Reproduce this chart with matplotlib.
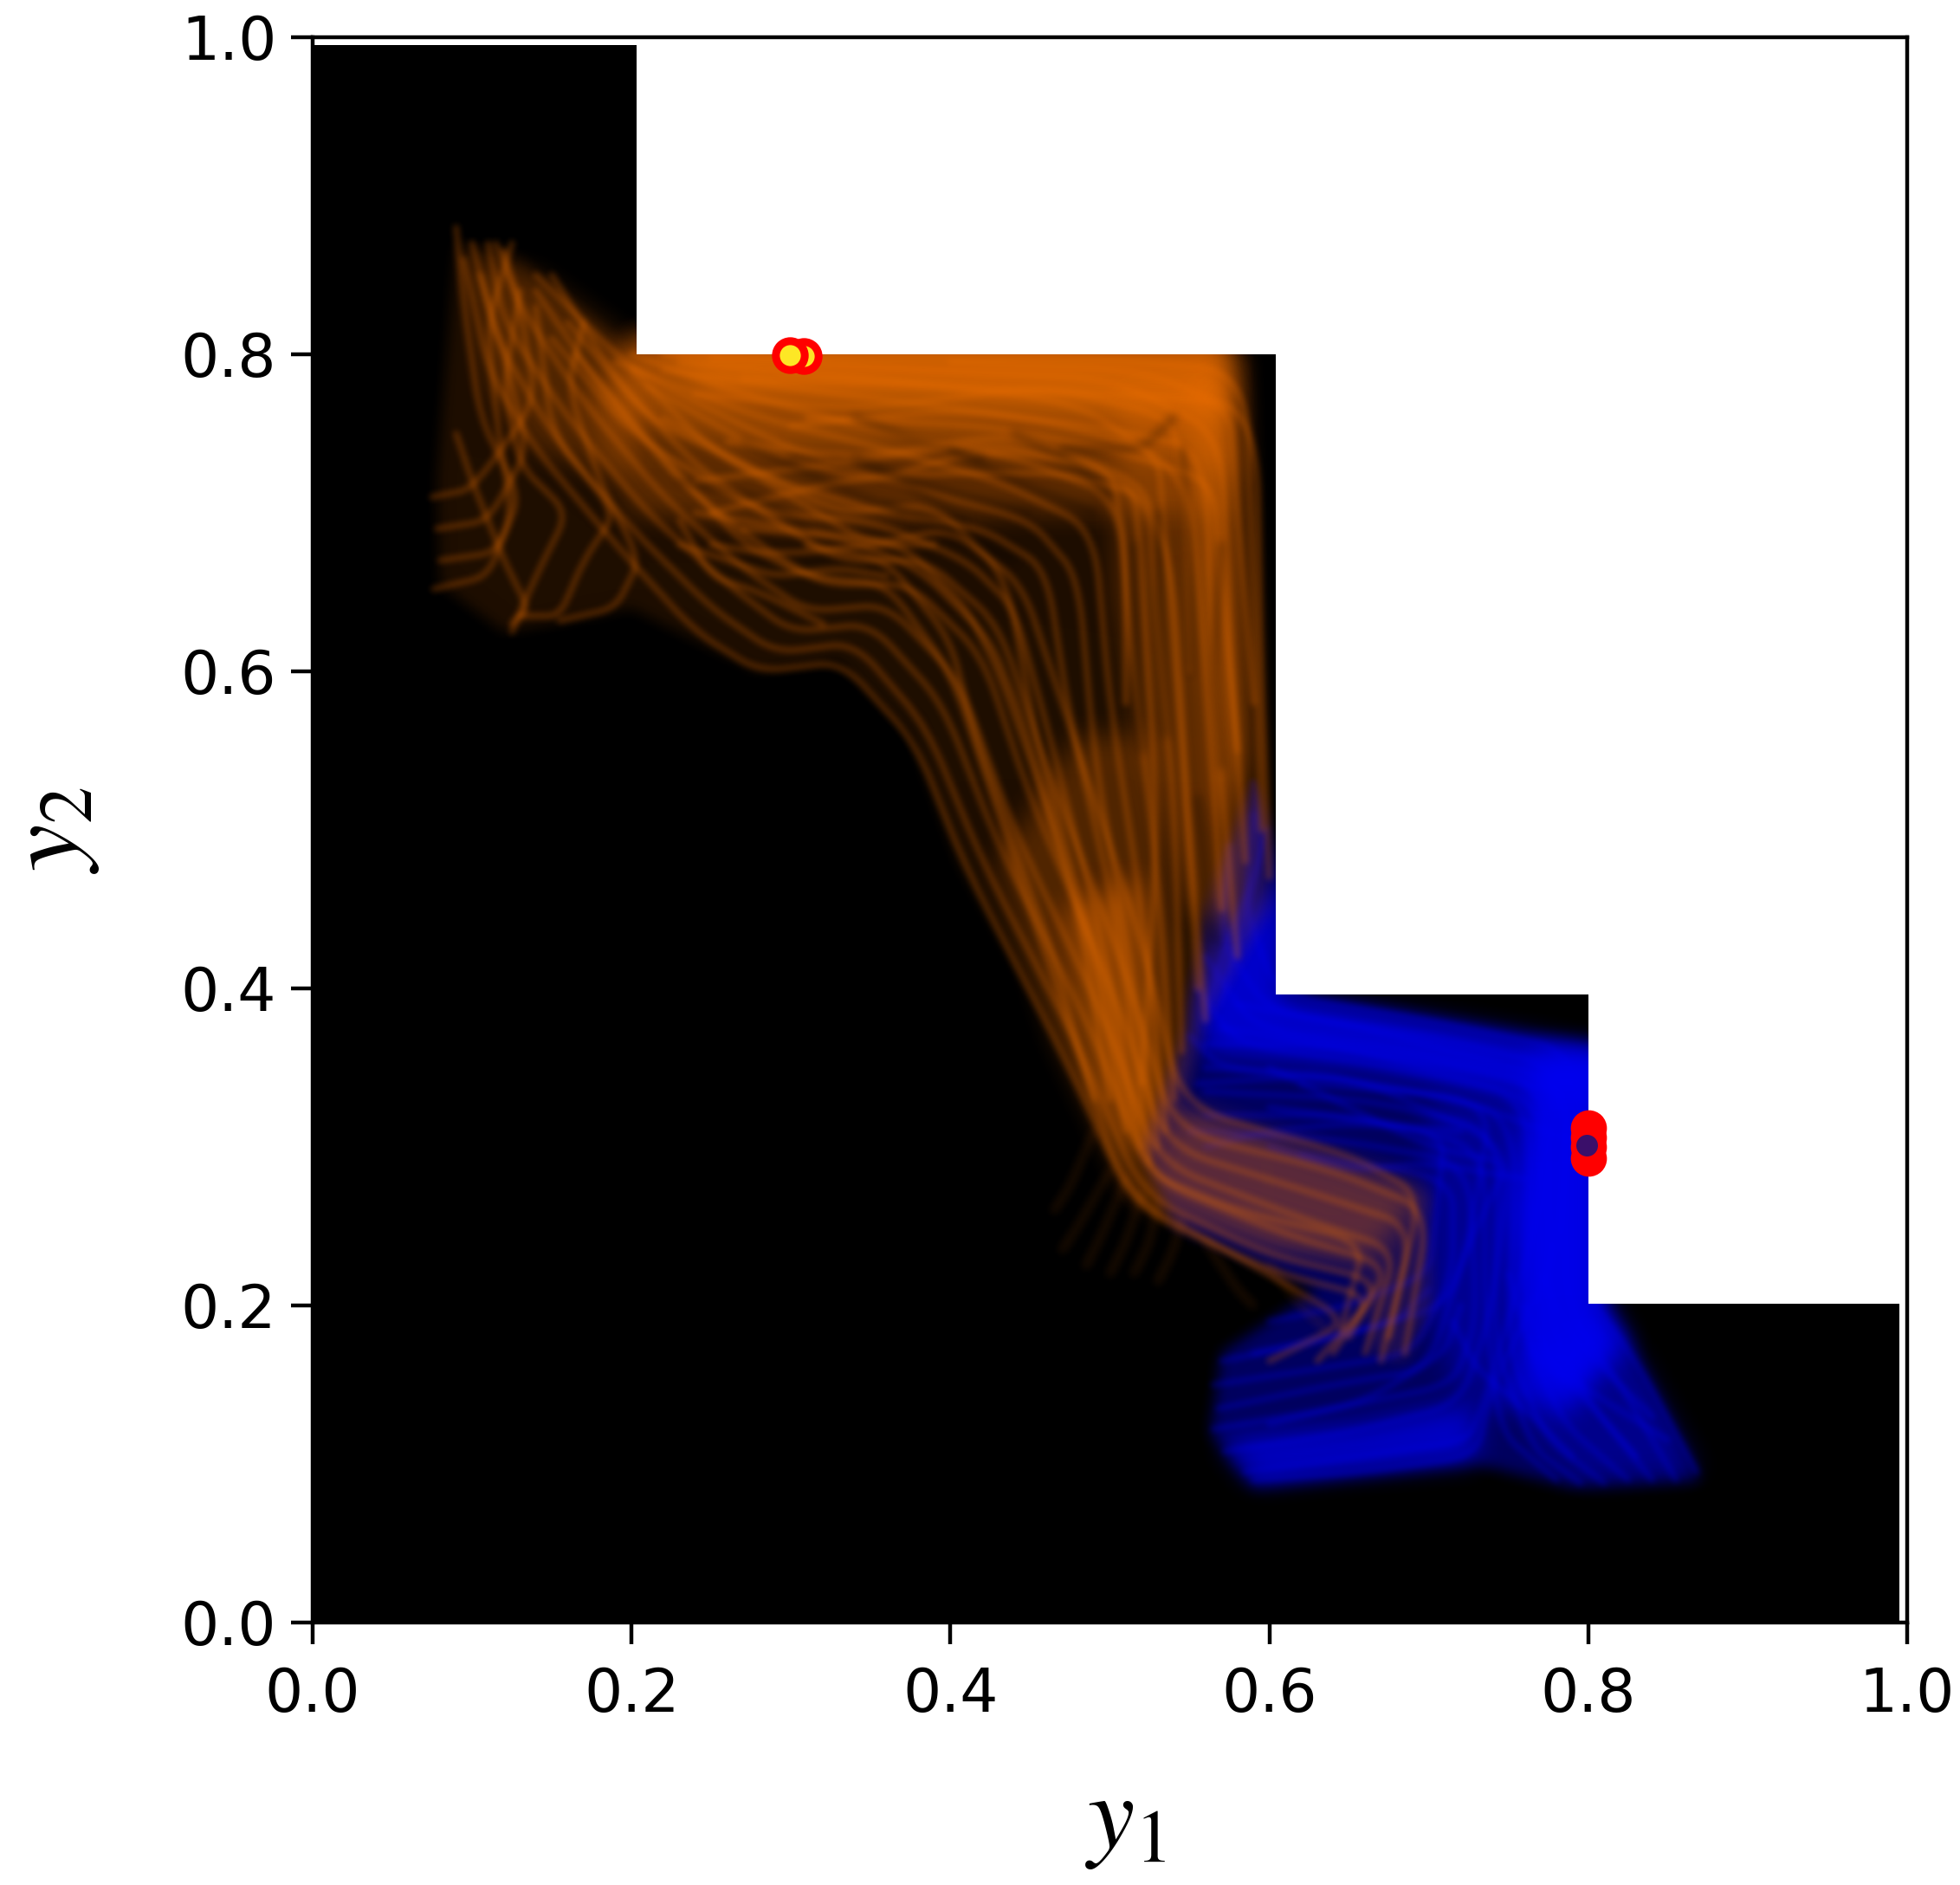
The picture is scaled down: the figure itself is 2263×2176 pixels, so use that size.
# Trajectories in objective space, two bundles over a staircase region
import numpy as np
import matplotlib
matplotlib.use("Agg")
import matplotlib.pyplot as plt
from matplotlib.path import Path
from matplotlib.collections import PathCollection

# staircase region (black) and the white part above it
region = [(0, 0), (.995, 0), (.995, .201), (.8, .201), (.8, .396), (.604, .396), (.604, .8),
          (.203, .8), (.203, .995), (0, .995)]
outside = [(.203, 1), (.203, .8), (.604, .8), (.604, .396), (.8, .396), (.8, .201), (1, .201), (1, 1)]

# blue bundle, areas (faint to dense)
blue_areas = [
    [(.605, .398), (.81, .363), (.81, .2), (.83, .17), (.87, .09), (.79, .085), (.73, .1), (.59, .085),
     (.563, .12), (.57, .17), (.63, .21), (.54, .25), (.52, .3), (.55, .38), (.56, .45), (.59, .53), (.61, .47)],
    [(.61, .395), (.81, .36), (.81, .33), (.76, .33), (.66, .35), (.56, .36), (.555, .39), (.58, .44), (.61, .47)],
    [(.765, .36), (.81, .36), (.81, .2), (.825, .175), (.79, .14), (.755, .16), (.75, .26)],
    [(.59, .09), (.73, .103), (.73, .135), (.755, .16), (.8, .19), (.79, .13), (.73, .14), (.66, .125), (.57, .115)],
    [(.8, .2), (.83, .17), (.87, .095), (.8, .09), (.76, .12)],
    [(.7, .33), (.76, .33), (.75, .16), (.72, .14), (.7, .2)],
]
blue_area_alpha = [.4, .75, .95, .7, .3, .35]

blue_paths = [
    [(.868, .095), (.83, .165), (.797, .21), (.795, .36), (.7, .38), (.605, .396), (.585, .45), (.59, .51)],
    [(.855, .09), (.82, .15), (.785, .2), (.785, .35), (.7, .37), (.6, .385), (.57, .43), (.575, .49)],
    [(.84, .09), (.8, .14), (.775, .19), (.775, .34), (.69, .36), (.59, .375), (.56, .42)],
    [(.825, .09), (.785, .125), (.76, .18), (.765, .33), (.68, .35), (.58, .365), (.555, .4)],
    [(.81, .088), (.775, .115), (.75, .17), (.755, .32), (.67, .34), (.57, .35), (.55, .37)],
    [(.795, .088), (.765, .11), (.74, .18), (.745, .31), (.66, .33), (.56, .335)],
    [(.78, .09), (.745, .12), (.735, .2), (.735, .3), (.65, .32), (.56, .32)],
    [(.565, .122), (.64, .135), (.715, .15), (.73, .19), (.725, .29), (.64, .305), (.55, .31)],
    [(.572, .108), (.65, .12), (.72, .138), (.74, .2), (.752, .3), (.65, .345), (.56, .35)],
    [(.585, .095), (.66, .105), (.725, .115), (.735, .14), (.77, .26), (.77, .33), (.66, .36), (.57, .375)],
    [(.59, .09), (.66, .095), (.73, .105), (.74, .15), (.78, .23), (.79, .34), (.66, .375), (.58, .39)],
    [(.565, .15), (.63, .16), (.69, .17), (.715, .22), (.715, .28), (.62, .295)],
    [(.568, .135), (.64, .15), (.7, .16), (.725, .24), (.74, .33), (.62, .34)],
    [(.6, .19), (.65, .2), (.7, .22), (.705, .26), (.71, .31), (.6, .325)],
    [(.59, .17), (.66, .185), (.71, .2), (.73, .25), (.75, .29), (.7, .3), (.6, .35)],
    [(.8, .3), (.72, .33), (.63, .345), (.555, .34)],
    [(.8, .33), (.72, .35), (.63, .365), (.56, .365)],
    [(.56, .38), (.57, .42), (.59, .47), (.598, .5)],
    [(.57, .39), (.58, .43), (.595, .48), (.59, .53)],
    [(.85, .115), (.81, .14), (.78, .16), (.76, .2)],
    [(.84, .13), (.81, .16), (.79, .18), (.77, .22)],
    [(.83, .105), (.79, .15), (.765, .17), (.75, .22)],
    [(.79, .105), (.76, .135), (.73, .16), (.715, .19)],
    [(.57, .165), (.62, .175), (.68, .19), (.7, .21)],
    [(.6, .125), (.66, .14), (.71, .17), (.72, .2)],
    [(.72, .31), (.65, .315), (.6, .31), (.56, .3)],
    [(.76, .28), (.7, .29), (.65, .285), (.6, .3)],
]

# orange bundle, areas (faint to dense)
orange_areas = [
    [(.09, .87), (.13, .86), (.2, .8), (.59, .8), (.6, .55), (.6, .45), (.56, .38), (.545, .325), (.70, .27),
     (.702, .2), (.685, .165), (.665, .17), (.66, .22), (.513, .265), (.46, .38), (.405, .48), (.375, .56),
     (.33, .607), (.28, .6), (.2, .64), (.15, .63), (.12, .625), (.08, .655), (.078, .72)],
    [(.17, .77), (.2, .81), (.575, .81), (.575, .7), (.55, .7), (.45, .7), (.3, .69), (.2, .7)],
    [(.2, .81), (.575, .81), (.578, .72), (.55, .735), (.4, .74), (.28, .74), (.19, .76)],
    [(.2, .81), (.575, .81), (.57, .76), (.4, .77), (.25, .775)],
    [(.505, .78), (.578, .79), (.585, .5), (.58, .44), (.55, .45), (.52, .55), (.505, .65)],
    [(.55, .78), (.575, .79), (.585, .55), (.57, .5), (.56, .6), (.55, .7)],
    [(.43, .48), (.48, .56), (.525, .56), (.545, .42), (.54, .33), (.513, .27), (.465, .37)],
    [(.47, .45), (.52, .47), (.53, .33), (.515, .29), (.49, .34)],
    [(.513, .27), (.545, .325), (.697, .272), (.665, .23), (.6, .235)],
    [(.1, .86), (.14, .85), (.21, .8), (.2, .72), (.14, .74), (.11, .78)],
]
orange_area_alpha = [.13, .3, .4, .65, .3, .4, .25, .4, .3, .25]

orange_paths = [
    [(.63, .165), (.665, .205), (.6, .222), (.515, .262), (.475, .35), (.41, .475), (.378, .555), (.332, .606),
     (.28, .6), (.24, .625), (.19, .68), (.14, .74), (.11, .79), (.095, .86)],
    [(.64, .17), (.67, .215), (.6, .232), (.52, .27), (.482, .36), (.42, .48), (.385, .565), (.34, .618),
     (.29, .612), (.25, .64), (.2, .69), (.15, .75), (.115, .81), (.1, .87)],
    [(.65, .18), (.675, .225), (.61, .245), (.525, .28), (.49, .37), (.43, .49), (.395, .58), (.35, .63),
     (.3, .625), (.26, .655), (.21, .7), (.16, .76), (.12, .82), (.11, .87)],
    [(.66, .17), (.68, .235), (.62, .255), (.53, .29), (.497, .38), (.44, .5), (.405, .595), (.36, .642),
     (.31, .638), (.27, .665), (.22, .71), (.17, .77), (.13, .83), (.12, .865)],
    [(.67, .165), (.69, .25), (.63, .27), (.535, .3), (.505, .39), (.45, .52), (.42, .61), (.375, .655),
     (.32, .655), (.28, .68), (.23, .72), (.18, .78), (.14, .84)],
    [(.685, .17), (.7, .26), (.64, .285), (.54, .31), (.51, .41), (.46, .54), (.43, .63), (.385, .67),
     (.33, .67), (.29, .695), (.24, .73), (.19, .785), (.15, .85)],
    [(.675, .18), (.695, .27), (.65, .295), (.545, .325), (.52, .43), (.47, .58), (.445, .655), (.4, .69),
     (.35, .68), (.3, .71), (.25, .74), (.2, .79)],
    [(.6, .165), (.65, .19), (.59, .225), (.51, .27), (.47, .39), (.43, .51), (.4, .6), (.36, .655),
     (.31, .66), (.27, .68), (.22, .735), (.165, .8)],
    [(.645, .185), (.66, .24), (.58, .26), (.52, .285), (.495, .41), (.455, .55), (.435, .66), (.39, .705),
     (.33, .7), (.27, .73), (.21, .76), (.16, .82)],
    [(.53, .3), (.51, .43), (.49, .55), (.48, .66), (.45, .695), (.38, .715), (.3, .74), (.2, .79), (.14, .85)],
    [(.535, .31), (.52, .45), (.5, .58), (.49, .69), (.43, .72), (.36, .74), (.28, .76), (.19, .795)],
    [(.54, .33), (.53, .47), (.515, .6), (.505, .71), (.44, .735), (.36, .75), (.27, .775), (.2, .8)],
    [(.525, .29), (.505, .44), (.475, .57), (.46, .665), (.42, .69), (.36, .7), (.29, .72), (.22, .76)],
    [(.52, .3), (.495, .43), (.462, .56), (.44, .64), (.41, .67), (.35, .695), (.28, .7), (.2, .75), (.15, .81)],
    [(.555, .4), (.545, .55), (.535, .68), (.53, .74), (.45, .76), (.33, .775), (.22, .79)],
    [(.57, .45), (.56, .6), (.55, .72), (.48, .77), (.35, .785), (.23, .795)],
    [(.585, .48), (.575, .62), (.57, .75), (.5, .785), (.38, .79), (.25, .798)],
    [(.595, .5), (.59, .65), (.585, .79), (.48, .798), (.3, .798), (.22, .8)],
    [(.6, .47), (.595, .6), (.592, .76), (.52, .79), (.4, .795)],
    [(.58, .42), (.565, .58), (.56, .74), (.49, .755), (.4, .765), (.3, .755)],
    [(.56, .38), (.55, .5), (.54, .66), (.52, .72), (.44, .75), (.34, .735), (.26, .745)],
    [(.52, .34), (.53, .5), (.52, .66), (.515, .72), (.43, .745), (.32, .73), (.24, .72)],
    [(.545, .36), (.54, .52), (.53, .62), (.525, .71), (.47, .725), (.39, .725), (.33, .72), (.25, .7)],
    [(.5, .33), (.48, .45), (.455, .53), (.43, .6), (.41, .64), (.37, .68), (.3, .69), (.24, .7)],
    [(.51, .31), (.49, .42), (.465, .5), (.445, .57), (.425, .62), (.38, .665), (.33, .685), (.27, .69)],
    [(.49, .33), (.465, .42), (.44, .49), (.415, .56), (.4, .62), (.36, .67), (.31, .68)],
    [(.58, .55), (.57, .65), (.565, .72), (.5, .74), (.42, .755), (.31, .76)],
    [(.59, .58), (.58, .7), (.575, .77), (.5, .775), (.4, .78), (.27, .785)],
    [(.55, .6), (.548, .7), (.54, .76), (.46, .78), (.34, .765), (.24, .775)],
    [(.51, .58), (.51, .68), (.5, .73), (.42, .74), (.35, .72), (.28, .74), (.21, .78)],
    [(.076, .652), (.11, .66), (.125, .7), (.115, .76), (.11, .82), (.125, .87)],
    [(.08, .67), (.115, .675), (.13, .71), (.105, .76), (.095, .83), (.09, .88)],
    [(.078, .69), (.11, .695), (.135, .74), (.12, .8), (.105, .85)],
    [(.075, .71), (.1, .715), (.14, .77), (.13, .83), (.115, .87)],
    [(.125, .625), (.14, .66), (.16, .7), (.13, .73), (.12, .78), (.13, .84)],
    [(.13, .635), (.155, .635), (.17, .67), (.19, .7), (.15, .75), (.14, .83)],
    [(.155, .632), (.19, .64), (.205, .67), (.18, .72), (.16, .78), (.17, .82)],
    [(.09, .75), (.1, .72), (.12, .67), (.135, .64), (.125, .63)],
    [(.23, .68), (.26, .67), (.29, .66), (.33, .665), (.36, .66)],
    [(.25, .68), (.28, .675), (.31, .675), (.35, .68), (.39, .68)],
    [(.32, .63), (.28, .65), (.25, .66), (.23, .695)],
]

# faint short ends below the bundle
fringe_paths = [
    [(.5, .285), (.48, .25), (.47, .235)],
    [(.51, .28), (.495, .245), (.485, .225)],
    [(.52, .27), (.51, .24), (.5, .22)],
    [(.49, .31), (.475, .275), (.465, .26)],
    [(.53, .265), (.525, .24), (.515, .22)],
    [(.545, .255), (.54, .235), (.53, .215)],
    [(.56, .24), (.58, .21), (.59, .2)],
    [(.6, .225), (.62, .2), (.635, .185)],
]

# dark gaps between the trajectories
gap_paths = [
    [(.27, .745), (.32, .72), (.37, .7)],
    [(.3, .735), (.36, .725), (.41, .695)],
    [(.34, .735), (.39, .715), (.45, .7)],
    [(.4, .74), (.44, .72), (.49, .7)],
    [(.44, .75), (.48, .73), (.5, .71)],
    [(.34, .76), (.38, .745), (.42, .735)],
    [(.23, .72), (.28, .71), (.31, .69)],
    [(.53, .7), (.53, .62), (.535, .56)],
    [(.545, .74), (.55, .66), (.55, .6)],
    [(.57, .68), (.565, .6), (.57, .54)],
    [(.515, .68), (.517, .6), (.52, .55)],
    [(.555, .52), (.56, .47), (.565, .43)],
    [(.47, .74), (.52, .74), (.54, .76)],
    [(.36, .705), (.4, .69), (.44, .67)],
]

# end points, last ones on top
orange_end_x = [.308, .2993]
orange_end_y = [.799, .7995]
blue_end_x = [.8, .8, .8, .8]
blue_end_y = [.293, .312, .306, .3]
blue_last_x = .799
blue_last_y = .301

ticks = [0.0, 0.2, 0.4, 0.6, 0.8, 1.0]


def box(a, r, axis):
    a = np.moveaxis(a, axis, 0)
    c = np.cumsum(np.concatenate([np.zeros_like(a[:1]), a]), axis=0)
    n = a.shape[0]
    hi = np.minimum(np.arange(n) + r + 1, n)
    lo = np.maximum(np.arange(n) - r, 0)
    return np.moveaxis((c[hi] - c[lo]) / (2 * r + 1), 0, axis)


def soften(r):
    # agg filter, the reference is a blurry upscaled raster
    def f(img, dpi):
        pad = r * 3
        h, w = img.shape[:2]
        out = np.zeros((h + 2 * pad, w + 2 * pad, 4))
        a = img[..., 3:]
        out[pad:pad + h, pad:pad + w, :3] = img[..., :3] * a
        out[pad:pad + h, pad:pad + w, 3:] = a
        for _ in range(3):
            out = box(box(out, r, 0), r, 1)
        al = np.maximum(out[..., 3:], 1e-4)
        out[..., :3] = np.clip(out[..., :3] / al, 0, 1)
        return out, -pad, -pad
    return f


def curved(p, frac=.3):
    # small rounded corners at the read points
    p = np.array(p)
    verts = [p[0]]
    codes = [Path.MOVETO]
    for i in range(1, len(p) - 1):
        verts += [p[i] + (p[i - 1] - p[i]) * frac, p[i], p[i] + (p[i + 1] - p[i]) * frac]
        codes += [Path.LINETO, Path.CURVE3, Path.CURVE3]
    verts.append(p[-1])
    codes.append(Path.LINETO)
    return Path(verts, codes)


def strokes(paths, rgba, lw, r, z):
    lines = PathCollection([curved(p) for p in paths], facecolors='none',
                           edgecolors=[rgba], linewidths=lw, zorder=z)
    lines.set_transform(ax.transData)
    lines.set_capstyle('round')
    lines.set_agg_filter(soften(r))
    ax.add_collection(lines, autolim=False)


def draw_bundle(areas, alphas, paths, rgb, z):
    for i, (area, a) in enumerate(zip(areas, alphas)):
        for poly in ax.fill(*zip(*area), color=rgb, alpha=a, lw=0, zorder=z):
            poly.set_agg_filter(soften(7 if i == 0 else 14))
    strokes(paths, matplotlib.colors.to_rgba(rgb, .3), 5, 2, z + .5)


plt.rcParams['mathtext.fontset'] = 'stix'

fig = plt.figure(figsize=(22.63, 21.76), dpi=100)
ax = fig.add_axes([361 / 2263, 303 / 2176, 1841 / 2263, 1830 / 2176])

ax.fill(*zip(*region), color='black', lw=0, zorder=1)

draw_bundle(blue_areas, blue_area_alpha, blue_paths, '#0000f0', 2)
draw_bundle(orange_areas, orange_area_alpha, orange_paths, '#ee6f00', 4)
strokes(fringe_paths, matplotlib.colors.to_rgba('#ee6f00', .13), 6, 3, 4.6)
strokes(gap_paths, (0, 0, 0, .3), 6, 3, 4.8)

ax.fill(*zip(*outside), color='white', lw=0, zorder=5.5)

# markers
for x, y in zip(orange_end_x, orange_end_y):
    ax.plot(x, y, 'o', ms=24, mfc='#fde725', mec='red', mew=6.5, zorder=6)
for x, y in zip(blue_end_x, blue_end_y):
    ax.plot(x, y, 'o', ms=24, mfc='red', mec='red', mew=6, zorder=6)
ax.plot(blue_last_x, blue_last_y, 'o', ms=18, mfc='#3a0f6a', mew=0, zorder=7)

ax.set_xlim(0, 1)
ax.set_ylim(0, 1)
ax.set_xticks(ticks)
ax.set_yticks(ticks)
ax.tick_params(labelsize=50, length=18, width=3.2, pad=12)
ax.tick_params(axis='x', pad=18)
for s in ax.spines.values():
    s.set_linewidth(3.2)
    s.set_zorder(10)

ax.set_xlabel('$y_1$', fontsize=88, labelpad=38, x=.51)
ax.set_ylabel('$y_2$', fontsize=88, labelpad=66)

fig.savefig('out.png', dpi=100)
